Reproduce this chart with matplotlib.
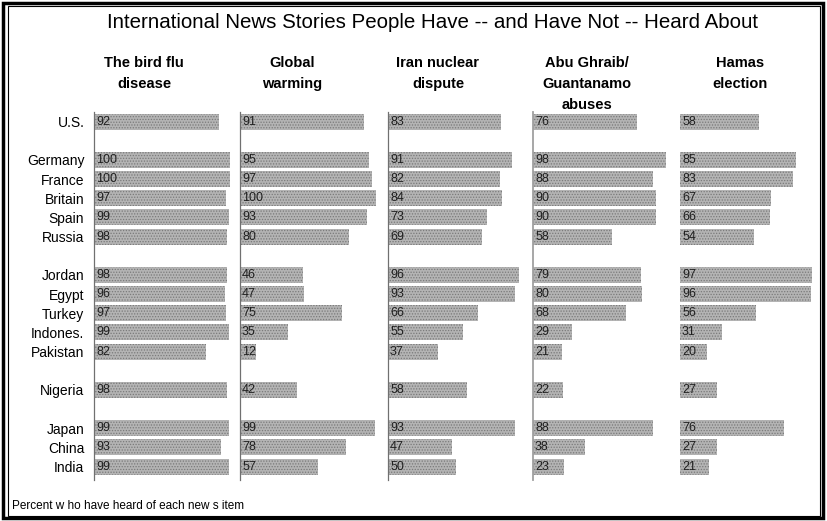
import matplotlib
matplotlib.use('Agg')
import matplotlib.pyplot as plt
from matplotlib.patches import Rectangle

W, H = 828, 521

title = 'International News Stories People Have -- and Have Not -- Heard About'
footnote = 'Percent w ho have heard of each new s item'

countries = ['U.S.', 'Germany', 'France', 'Britain', 'Spain', 'Russia',
             'Jordan', 'Egypt', 'Turkey', 'Indones.', 'Pakistan',
             'Nigeria', 'Japan', 'China', 'India']
# group number of each country (a blank row goes between groups)
groups = [0, 1, 1, 1, 1, 1, 2, 2, 2, 2, 2, 3, 4, 4, 4]

headers = ['The bird flu\ndisease', 'Global\nwarming', 'Iran nuclear\ndispute',
           'Abu Ghraib/\nGuantanamo\nabuses', 'Hamas\nelection']
bird_flu = [92, 100, 100, 97, 99, 98, 98, 96, 97, 99, 82, 98, 99, 93, 99]
warming = [91, 95, 97, 100, 93, 80, 46, 47, 75, 35, 12, 42, 99, 78, 57]
iran = [83, 91, 82, 84, 73, 69, 96, 93, 66, 55, 37, 58, 93, 47, 50]
abu_ghraib = [76, 98, 88, 90, 90, 58, 79, 80, 68, 29, 21, 22, 88, 38, 23]
hamas = [58, 85, 83, 67, 66, 54, 97, 96, 56, 31, 20, 27, 76, 27, 21]
series = [bird_flu, warming, iran, abu_ghraib, hamas]

# pixel layout
col_left = [94, 240, 388, 533, 680]
head_x = [144, 292, 438, 587, 740]
col_w = 143
ax_top, ax_bot = 112, 480
axis_line = ['#707070', '#707070', '#707070', '#a0a0a0', None]

ypos = [i + g for i, g in enumerate(groups)]

plt.rcParams['hatch.linewidth'] = 0.6
fig = plt.figure(figsize=(W / 100, H / 100), dpi=100)

def fx(px):
    return px / W

def fy(py):
    return 1 - py / H

for k, vals in enumerate(series):
    ax = fig.add_axes([fx(col_left[k]), fy(ax_bot), fx(col_w), (ax_bot - ax_top) / H])
    ax.barh(ypos, vals, height=0.84, color='#b4b4b4', edgecolor='#7a7a7a',
            hatch='......', linewidth=0)
    for y, v in zip(ypos, vals):
        ax.text(1.5, y, str(v), va='center', ha='left', fontsize=9,
                color='#202020', family='Liberation Sans')
    ax.set_xlim(0, 105)
    ax.set_ylim(18.7, -0.5)
    ax.set_xticks([])
    for s in ['top', 'right', 'bottom']:
        ax.spines[s].set_visible(False)
    if axis_line[k]:
        ax.spines['left'].set_color(axis_line[k])
        ax.spines['left'].set_linewidth(1.3 if k == 3 else 0.9)
    else:
        ax.spines['left'].set_visible(False)
    if k == 0:
        ax.set_yticks(ypos)
        ax.set_yticklabels(countries, fontsize=10, family='Liberation Sans')
        ax.tick_params(axis='y', length=0, pad=7)
    else:
        ax.set_yticks([])
    ax.patch.set_alpha(0)
    fig.text(fx(head_x[k]), fy(56), headers[k], ha='center', va='top',
             fontsize=10.5, fontweight='bold', linespacing=1.65,
             family=['Liberation Sans Narrow', 'Liberation Sans'])

fig.text(fx(433), fy(22), title, ha='center', va='center', fontsize=14.8,
         family=['Liberation Sans Narrow', 'Liberation Sans'])
fig.text(fx(12), fy(506), footnote, ha='left', va='center', fontsize=8.5,
         family='Liberation Sans')

# frame around the whole chart
fig.patches.append(Rectangle((fx(3), fy(518)), fx(820), (515) / H, transform=fig.transFigure,
                             fill=False, edgecolor='black', linewidth=2.5))
fig.patches.append(Rectangle((fx(8), fy(516)), fx(812), (510) / H, transform=fig.transFigure,
                             fill=False, edgecolor='black', linewidth=0.8))

fig.savefig('out.png', dpi=100)
